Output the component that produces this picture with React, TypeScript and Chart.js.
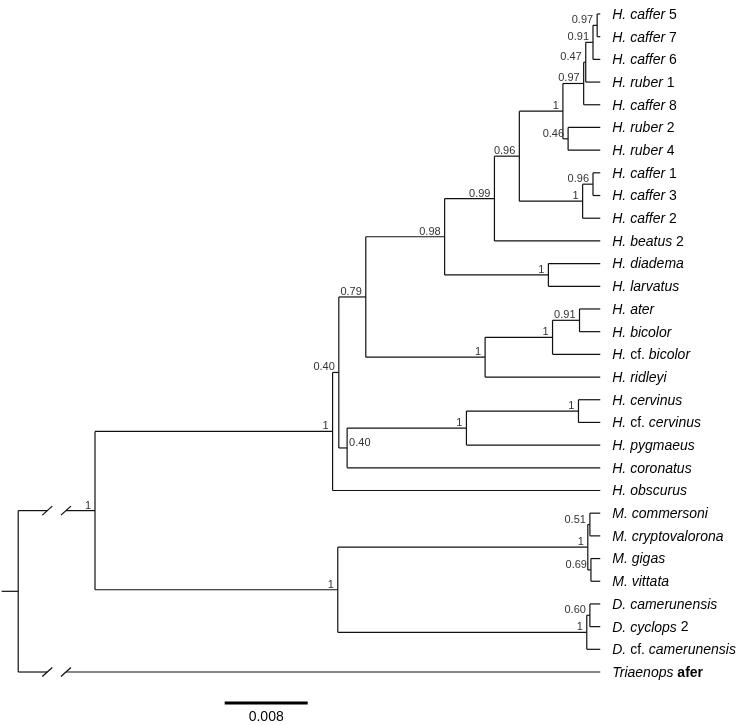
import React, { useEffect, useRef } from "react";
import { Chart, registerables } from "chart.js";

Chart.register(...registerables);

// ---------- DATA ----------
// Leaf labels, top to bottom. _text_ = italic, ^text^ = bold upright
const leafLabels = [
  "_H. caffer_ 5",
  "_H. caffer_ 7",
  "_H. caffer_ 6",
  "_H. ruber_ 1",
  "_H. caffer_ 8",
  "_H. ruber_ 2",
  "_H. ruber_ 4",
  "_H. caffer_ 1",
  "_H. caffer_ 3",
  "_H. caffer_ 2",
  "_H. beatus_ 2",
  "_H. diadema_",
  "_H. larvatus_",
  "_H. ater_",
  "_H. bicolor_",
  "_H._ cf. _bicolor_",
  "_H. ridleyi_",
  "_H. cervinus_",
  "_H._ cf. _cervinus_",
  "_H. pygmaeus_",
  "_H. coronatus_",
  "_H. obscurus_",
  "_M. commersoni_",
  "_M. cryptovalorona_",
  "_M. gigas_",
  "_M. vittata_",
  "_D. camerunensis_",
  "_D. cyclops_ 2",
  "_D._ cf. _camerunensis_",
  "_Triaenops_ ^afer^",
];
// parent internal node of every leaf
const leafParents = [12, 12, 11, 10, 9, 13, 13, 15, 15, 14, 6, 16, 16, 19, 19, 18, 17, 22, 22, 21, 20, 2, 25, 25, 26, 26, 28, 28, 27, 0];
// leaf tip depth (substitutions/site, from the ingroup node)
const leafDepths = [
  0.0487, 0.0487, 0.0487, 0.0487, 0.0487, 0.0487, 0.0487, 0.0487, 0.0487, 0.0487,
  0.0487, 0.0487, 0.0487, 0.0487, 0.0487, 0.0487, 0.0487, 0.0487, 0.0487, 0.0487,
  0.0487, 0.0487, 0.0487, 0.0487, 0.0487, 0.0487, 0.0487, 0.0487, 0.0487, 0.0487,
];
// internal nodes: parent, depth, posterior support
const nodeParents = [-1, 0, 1, 2, 3, 4, 5, 6, 7, 8, 9, 10, 11, 8, 7, 14, 5, 4, 17, 18, 3, 20, 21, 1, 23, 24, 24, 23, 27];
const nodeDepths = [
  -0.0074, 0.0, 0.0229, 0.0235, 0.0261, 0.0337, 0.0385, 0.0409, 0.0451, 0.0471,
  0.0473, 0.048, 0.0484, 0.0456, 0.047, 0.048, 0.0437, 0.0376, 0.0441, 0.0467,
  0.0243, 0.0358, 0.0466, 0.0234, 0.0475, 0.0477, 0.0478, 0.0474, 0.0477,
];
const nodeSupport = [
  "", "1", "1", "0.40", "0.79", "0.98", "0.99", "0.96", "1", "0.97",
  "0.47", "0.91", "0.97", "0.46", "1", "0.96", "1", "1", "1", "0.91",
  "0.40", "1", "1", "1", "1", "0.51", "0.69", "1", "0.60",
];
const supportOnRight = [20];
// branches from the root that are drawn shortened (break marks)
const brokenNodes = [1];
const brokenLeaves = [29];
const breakDepths = [-0.0046, -0.0028];
const rootStubDepth = -0.009;
const scaleBarLength = 0.008;
const scaleBarLabel = "0.008";

// ---------- LAYOUT HELPERS ----------
const FONT = '"Liberation Sans", Arial, Helvetica, sans-serif';

function buildTree() {
  const n = nodeParents.length;
  const kids: { leaf: boolean; i: number }[][] = Array.from({ length: n }, () => []);
  leafParents.forEach((p, i) => kids[p].push({ leaf: true, i }));
  nodeParents.forEach((p, i) => {
    if (p >= 0) kids[p].push({ leaf: false, i });
  });
  const nodeY: number[] = new Array(n).fill(0);
  const nodeMin: number[] = new Array(n).fill(0);
  const nodeMax: number[] = new Array(n).fill(0);
  const calc = (k: number): number => {
    const ys = kids[k].map((c) => (c.leaf ? c.i : calc(c.i)));
    nodeMin[k] = Math.min(...ys);
    nodeMax[k] = Math.max(...ys);
    nodeY[k] = (nodeMin[k] + nodeMax[k]) / 2;
    return nodeY[k];
  };
  calc(0);
  return { nodeY, nodeMin, nodeMax };
}

function parseLabel(s: string) {
  const segs: { t: string; it: boolean; b: boolean }[] = [];
  let it = false;
  let b = false;
  let cur = "";
  for (const ch of s) {
    if (ch === "_" || ch === "^") {
      if (cur) segs.push({ t: cur, it, b });
      cur = "";
      if (ch === "_") it = !it;
      else b = !b;
    } else cur += ch;
  }
  if (cur) segs.push({ t: cur, it, b });
  return segs;
}

export default function App() {
  const ref = useRef<HTMLCanvasElement | null>(null);

  useEffect(() => {
    if (!ref.current) return;
    const { nodeY, nodeMin, nodeMax } = buildTree();
    const segments: { x: number; y: number }[][] = [];

    // vertical lines of internal nodes
    nodeDepths.forEach((d, i) => {
      segments.push([
        { x: d, y: nodeMin[i] },
        { x: d, y: nodeMax[i] },
      ]);
    });
    // horizontal branches
    const addBranch = (pd: number, cd: number, y: number, broken: boolean) => {
      if (broken) {
        segments.push([{ x: pd, y }, { x: breakDepths[0], y }]);
        segments.push([{ x: breakDepths[1], y }, { x: cd, y }]);
      } else segments.push([{ x: pd, y }, { x: cd, y }]);
    };
    nodeParents.forEach((p, i) => {
      if (p >= 0) addBranch(nodeDepths[p], nodeDepths[i], nodeY[i], brokenNodes.includes(i));
    });
    leafParents.forEach((p, i) => {
      addBranch(nodeDepths[p], leafDepths[i], i, brokenLeaves.includes(i));
    });
    // root stub
    segments.push([
      { x: rootStubDepth, y: nodeY[0] },
      { x: nodeDepths[0], y: nodeY[0] },
    ]);

    const datasets = segments.map((s) => ({
      data: s,
      showLine: true,
      borderColor: "#111",
      borderWidth: 1.2,
      pointRadius: 0,
      pointHoverRadius: 0,
      fill: false,
    }));

    const textPlugin = {
      id: "treeText",
      afterDatasetsDraw(chart: any) {
        const ctx = chart.ctx as CanvasRenderingContext2D;
        const xs = chart.scales.x;
        const ys = chart.scales.y;
        ctx.save();
        // break marks
        ctx.strokeStyle = "#111";
        ctx.lineWidth = 1.3;
        const marks: number[] = [];
        brokenNodes.forEach((i) => marks.push(nodeY[i]));
        brokenLeaves.forEach((i) => marks.push(i));
        marks.forEach((yv) => {
          breakDepths.forEach((bd) => {
            const px = xs.getPixelForValue(bd);
            const py = ys.getPixelForValue(yv);
            ctx.beginPath();
            ctx.moveTo(px - 5, py + 4.5);
            ctx.lineTo(px + 5, py - 4.5);
            ctx.stroke();
          });
        });
        // leaf labels
        ctx.fillStyle = "#000";
        ctx.textBaseline = "middle";
        ctx.textAlign = "left";
        leafLabels.forEach((lab, i) => {
          let px = xs.getPixelForValue(leafDepths[i]) + 12;
          const py = ys.getPixelForValue(i) + 1;
          parseLabel(lab).forEach((sg) => {
            ctx.font = `${sg.it ? "italic " : ""}${sg.b ? "bold " : ""}14px ${FONT}`;
            ctx.fillText(sg.t, px, py);
            px += ctx.measureText(sg.t).width;
          });
        });
        // support values
        ctx.font = `11px ${FONT}`;
        ctx.fillStyle = "#333";
        ctx.textBaseline = "alphabetic";
        nodeSupport.forEach((s, i) => {
          if (!s || nodeParents[i] < 0) return;
          const px = xs.getPixelForValue(nodeDepths[i]);
          const py = ys.getPixelForValue(nodeY[i]);
          if (supportOnRight.includes(i)) {
            ctx.textAlign = "left";
            ctx.fillText(s, px + 2, py - 2);
          } else {
            ctx.textAlign = "right";
            ctx.fillText(s, px - 4, py - 2);
          }
        });
        // scale bar
        const bx0 = xs.getPixelForValue(0.0125);
        const bx1 = xs.getPixelForValue(0.0125 + scaleBarLength);
        const by = ys.getPixelForValue(leafLabels.length - 1) + 31;
        ctx.strokeStyle = "#000";
        ctx.lineWidth = 3;
        ctx.beginPath();
        ctx.moveTo(bx0, by);
        ctx.lineTo(bx1, by);
        ctx.stroke();
        ctx.fillStyle = "#000";
        ctx.font = `14px ${FONT}`;
        ctx.textAlign = "center";
        ctx.textBaseline = "middle";
        ctx.fillText(scaleBarLabel, (bx0 + bx1) / 2, by + 14);
        ctx.restore();
      },
    };

    const pxPerUnit = 10375;
    const xMin = -95 / pxPerUnit;
    const rowPx = 22.69;
    const yMin = -14 / rowPx;

    const chart = new Chart(ref.current, {
      type: "scatter",
      data: { datasets },
      options: {
        responsive: false,
        animation: false,
        events: [],
        layout: { padding: 0 },
        plugins: { legend: { display: false }, tooltip: { enabled: false } },
        scales: {
          x: { type: "linear", display: false, min: xMin, max: xMin + 756 / pxPerUnit },
          y: { type: "linear", display: false, reverse: true, min: yMin, max: yMin + 725 / rowPx },
        },
      },
      plugins: [textPlugin],
    } as any);
    return () => chart.destroy();
  }, []);

  return (
    <div style={{ position: "absolute", left: 0, top: 0, width: 756, height: 725, background: "#fff" }}>
      <canvas ref={ref} width={756} height={725} style={{ width: 756, height: 725, display: "block" }} />
    </div>
  );
}
